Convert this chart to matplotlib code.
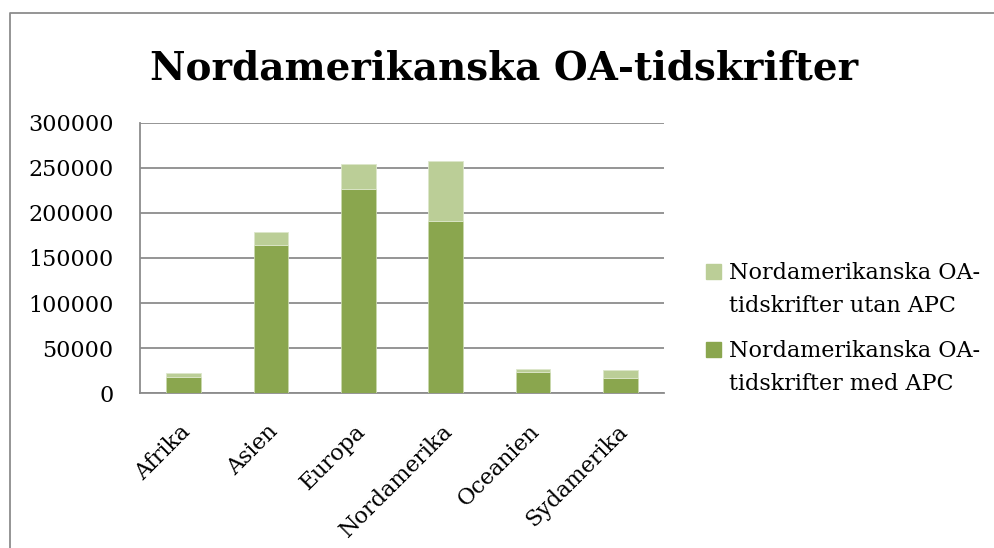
import matplotlib
matplotlib.use('Agg')
from matplotlib import pyplot as plt
from matplotlib.patches import Rectangle
from matplotlib.lines import Line2D
from matplotlib.transforms import ScaledTranslation
import numpy as np

plt.rcParams['font.family'] = ['DejaVu Serif']

regions = ['Afrika', 'Asien', 'Europa', 'Nordamerika', 'Oceanien', 'Sydamerika']
med_apc = [18400, 164700, 226800, 191400, 24000, 17300]
utan_apc = [3800, 13800, 27400, 66100, 3000, 8900]
yticks = [0, 50000, 100000, 150000, 200000, 250000, 300000]
labels = ['Nordamerikanska OA-\ntidskrifter utan APC', 'Nordamerikanska OA-\ntidskrifter med APC']

dark = '#8aa64e'
light = '#bbce97'
grid_col = '#8c8c8c'

W, H = 994, 548
fig = plt.figure(figsize=(W / 100, H / 100), dpi=100)
ax = fig.add_axes([140 / W, 1 - 393.3 / H, 524 / W, 270.6 / H])

x = np.arange(len(regions))
ax.bar(x, med_apc, width=0.4, color=dark, edgecolor='#c9d8ad', linewidth=0.6, zorder=3)
ax.bar(x, utan_apc, bottom=med_apc, width=0.4, color=light, edgecolor='#dde7cb',
       linewidth=0.6, zorder=3)

ax.set_xlim(-0.5, len(regions) - 0.5)
ax.set_ylim(0, 300000)
ax.set_yticks(yticks)
ax.set_yticklabels([str(v) for v in yticks])
ax.set_xticks(x)
ax.set_xticklabels(regions, rotation=45, ha='right', va='top', rotation_mode='anchor')
ax.tick_params(axis='y', length=0, pad=19, labelsize=16)
ax.tick_params(axis='x', length=0, pad=19.5, labelsize=16)
shift = ScaledTranslation(-4 / 100, 0, fig.dpi_scale_trans)
for lab in ax.get_xticklabels():
    lab.set_transform(lab.get_transform() + shift)
ax.yaxis.grid(True, color=grid_col, linewidth=1.3, zorder=0)
ax.set_axisbelow(True)
for s in ['top', 'right']:
    ax.spines[s].set_visible(False)
for s in ['left', 'bottom']:
    ax.spines[s].set_color(grid_col)
    ax.spines[s].set_linewidth(1.3)

# legend, drawn by hand so the square sits on the first text line (as in Excel)
for i, (lab, col) in enumerate(zip(labels, [light, dark])):
    base = 279 + i * 78
    fig.patches.append(Rectangle((706 / W, 1 - base / H), 15 / W, 15 / H,
                                 transform=fig.transFigure, color=col))
    for j, line in enumerate(lab.split('\n')):
        fig.text(729 / W, 1 - (base + j * 32.5) / H, line, fontsize=16, va='baseline')

fig.text(504 / W, 1 - 80 / H, 'Nordamerikanska OA-tidskrifter', ha='center',
         va='baseline', fontsize=28, fontweight='bold')

# outer chart border (only top and left are inside the picture)
fig.add_artist(Line2D([10 / W, 10 / W, 1.2], [-0.2, 1 - 13 / H, 1 - 13 / H],
                      transform=fig.transFigure, color=grid_col, linewidth=1.3))

fig.savefig('out.png', dpi=100)
